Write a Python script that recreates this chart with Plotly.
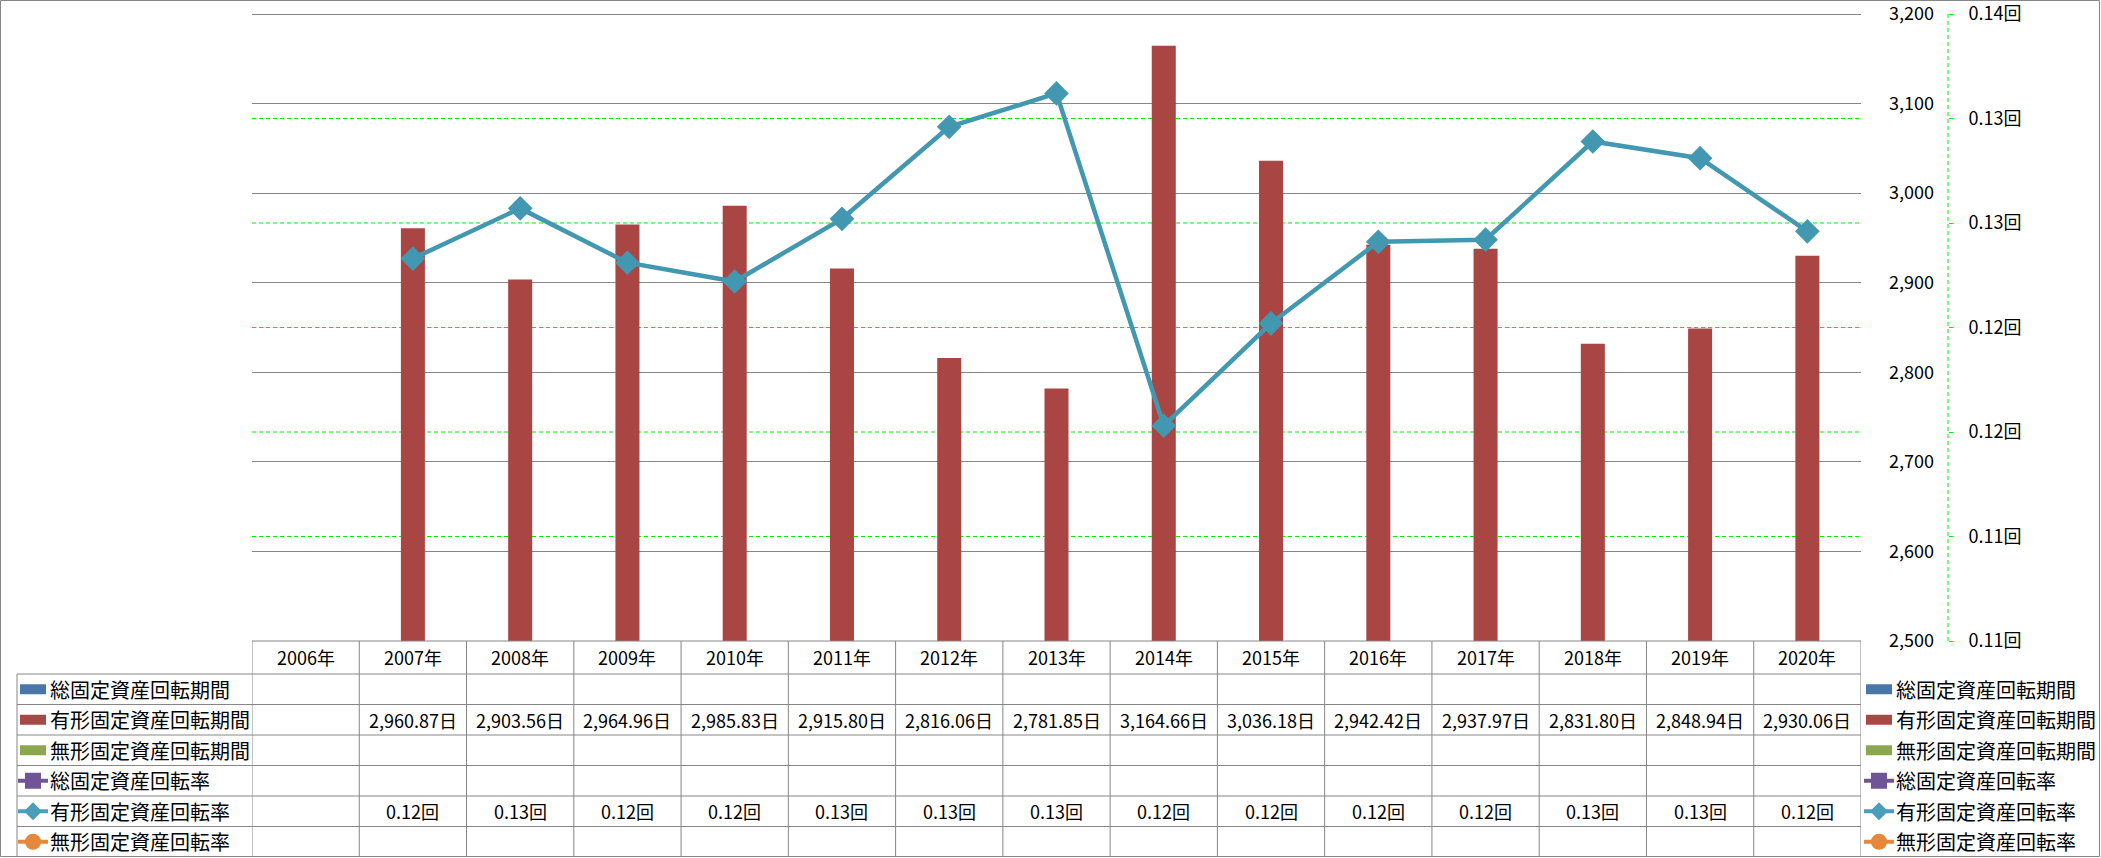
import plotly.graph_objects as go

# ---------------- data ----------------
years = ['2006年', '2007年', '2008年', '2009年', '2010年', '2011年', '2012年', '2013年',
         '2014年', '2015年', '2016年', '2017年', '2018年', '2019年', '2020年']
tangible_days = [None, 2960.87, 2903.56, 2964.96, 2985.83, 2915.80, 2816.06, 2781.85,
                 3164.66, 3036.18, 2942.42, 2937.97, 2831.80, 2848.94, 2930.06]
tangible_rate = [None, 0.1233, 0.1257, 0.1231, 0.1222, 0.1252, 0.1296, 0.1312,
                 0.1153, 0.1202, 0.1241, 0.1242, 0.1289, 0.1281, 0.1246]
series_names = ['総固定資産回転期間', '有形固定資産回転期間', '無形固定資産回転期間',
                '総固定資産回転率', '有形固定資産回転率', '無形固定資産回転率']
days_tickvals = [2500, 2600, 2700, 2800, 2900, 3000, 3100, 3200]
rate_tickvals = [0.105, 0.110, 0.115, 0.120, 0.125, 0.130, 0.135]
rate_ticktext = ['0.11回', '0.11回', '0.12回', '0.12回', '0.13回', '0.13回', '0.14回']

# ---------------- style ----------------
W, H = 2101, 858
PL, PR_AX, PX_END, PB = 252, 1948, 1861, 641
PT_AX = 14          # pixel row of the top axis value
PT = 11             # top of plotting area (a few px above top gridline)
BAR_C = '#A94644'
LINE_C = '#4298B0'
GRID_C = '#868686'
GREEN = '#00EE00'
FONT = 'Noto Sans CJK JP'
key_colors = ['#4A76AA', '#A94745', '#8CA84E', '#6F5596', '#4A9EB9', '#E6883C']
key_kind = ['bar', 'bar', 'bar', 'square', 'diamond', 'circle']

ext = (PB - PT) / (PB - PT_AX)   # range stretch so top ticks sit at PT_AX
y1_lo, y1_hi = days_tickvals[0], days_tickvals[-1]
y2_lo, y2_hi = rate_tickvals[0], rate_tickvals[-1]

def fx(p):
    return (p - PL) / (PR_AX - PL)

def fy(p):
    return (PB - p) / (PB - PT)

fig = go.Figure()
fig.add_trace(go.Bar(x=years, y=tangible_days, marker=dict(color=BAR_C, line=dict(width=0)),
                     name=series_names[1], yaxis='y'))
fig.add_trace(go.Scatter(x=years, y=tangible_rate, mode='lines+markers', yaxis='y2',
                         name=series_names[4],
                         line=dict(color=LINE_C, width=4.5),
                         marker=dict(symbol='diamond', size=19, color=LINE_C)))

shapes = []
annos = []

# secondary-axis dashed gridlines (inner ticks only)
for v in rate_tickvals[1:-1]:
    shapes.append(dict(type='line', xref='paper', yref='y2', x0=0, x1=fx(PX_END),
                       y0=v, y1=v, line=dict(color=GREEN, width=1, dash='4px,3px'),
                       layer='below'))

# table geometry (pixel rows)
row_edges = [641, 674, 704.5, 735, 765.5, 796, 826.5, 857]
TL = 17
line_style = dict(color=GRID_C, width=1)
for i, r in enumerate(row_edges[:-1]):
    x0 = PL if i == 0 else TL
    shapes.append(dict(type='line', xref='paper', yref='paper', x0=fx(x0), x1=fx(PX_END),
                       y0=fy(r), y1=fy(r), line=line_style, layer='above'))
for k in range(len(years) + 1):
    shapes.append(dict(type='line', xref='x', yref='paper', x0=k - 0.5, x1=k - 0.5,
                       y0=fy(row_edges[0]), y1=fy(row_edges[-1]), line=line_style))
shapes.append(dict(type='line', xref='paper', yref='paper', x0=fx(TL), x1=fx(TL),
                   y0=fy(row_edges[1]), y1=fy(row_edges[-1]), line=line_style))
# chart border
shapes.append(dict(type='rect', xref='paper', yref='paper', x0=fx(0.5), x1=fx(W - 1.5),
                   y0=fy(H - 1.5), y1=fy(0.5), line=line_style))
# dashed secondary axis line
shapes.append(dict(type='line', xref='paper', yref='paper', x0=1, x1=1, y0=0, y1=fy(PT_AX),
                   line=dict(color=GREEN, width=1, dash='4px,3px')))

def cell_text(x, yc, text, size=18, xref='x', xanchor='center'):
    annos.append(dict(x=x, xref=xref, y=fy(yc), yref='paper', text=text, showarrow=False,
                      xanchor=xanchor, yanchor='middle',
                      font=dict(family=FONT, size=size, color='#000')))

for k, yr in enumerate(years):
    cell_text(yr, (row_edges[0] + row_edges[1]) / 2, yr)
for k, yr in enumerate(years):
    d = tangible_days[k]
    if d is not None:
        cell_text(yr, (row_edges[2] + row_edges[3]) / 2, f'{d:,.2f}日')
    r = tangible_rate[k]
    if r is not None:
        cell_text(yr, (row_edges[5] + row_edges[6]) / 2, f'{r:.2f}回')

def add_key(xc, yc_px, kind, color):
    base = dict(xref='paper', yref='paper', xsizemode='pixel', ysizemode='pixel',
                xanchor=fx(xc), yanchor=fy(yc_px))
    if kind == 'bar':
        shapes.append(dict(type='rect', x0=-13, x1=13, y0=-5, y1=5, fillcolor=color,
                           line=dict(width=0), **base))
    else:
        shapes.append(dict(type='line', x0=-15, x1=15, y0=0, y1=0,
                           line=dict(color=color, width=4), **base))
        if kind == 'square':
            shapes.append(dict(type='rect', x0=-8, x1=8, y0=-8, y1=8, fillcolor=color,
                               line=dict(width=0), **base))
        elif kind == 'circle':
            shapes.append(dict(type='circle', x0=-8, x1=8, y0=-8, y1=8, fillcolor=color,
                               line=dict(width=0), **base))
        else:
            shapes.append(dict(type='path', path='M 0 9 L 9 0 L 0 -9 L -9 0 Z',
                               fillcolor=color, line=dict(width=0), **base))

for i, name in enumerate(series_names):
    yc = (row_edges[i + 1] + row_edges[i + 2]) / 2
    for kx, tx in ((33, 48), (1879, 1894)):
        add_key(kx, yc, key_kind[i], key_colors[i])
        cell_text(fx(tx), yc, name, size=20, xref='paper', xanchor='left')

fig.update_layout(
    width=W, height=H,
    margin=dict(l=PL, r=W - PR_AX, t=PT, b=H - PB, pad=0, autoexpand=False),
    paper_bgcolor='white', plot_bgcolor='white',
    showlegend=False,
    bargap=0.776,
    font=dict(family=FONT, size=18, color='#000'),
    xaxis=dict(domain=[0, fx(PX_END)], range=[-0.5, len(years) - 0.5], type='category',
               showticklabels=False, showgrid=False, zeroline=False, showline=False, ticks='',
               automargin=False),
    yaxis=dict(side='right', range=[y1_lo, y1_lo + (y1_hi - y1_lo) * ext],
               tickvals=days_tickvals, tickformat=',d', ticklabeloverflow='allow',
               ticksuffix='日', showgrid=True, gridcolor=GRID_C, gridwidth=1,
               zeroline=False, showline=False, ticks='', ticklabelstandoff=27,
               automargin=False,
               tickfont=dict(family=FONT, size=18, color='#000')),
    yaxis2=dict(overlaying='y', side='right', anchor='free', position=1,
                range=[y2_lo, y2_lo + (y2_hi - y2_lo) * ext], ticklabeloverflow='allow',
                tickvals=rate_tickvals, ticktext=rate_ticktext, automargin=False,
                showgrid=False, zeroline=False, showline=False, ticks='outside', ticklen=4,
                tickcolor=GREEN, ticklabelstandoff=12,
                tickfont=dict(family=FONT, size=18, color='#000')),
    shapes=shapes, annotations=annos,
)

fig.write_html('out.html')
